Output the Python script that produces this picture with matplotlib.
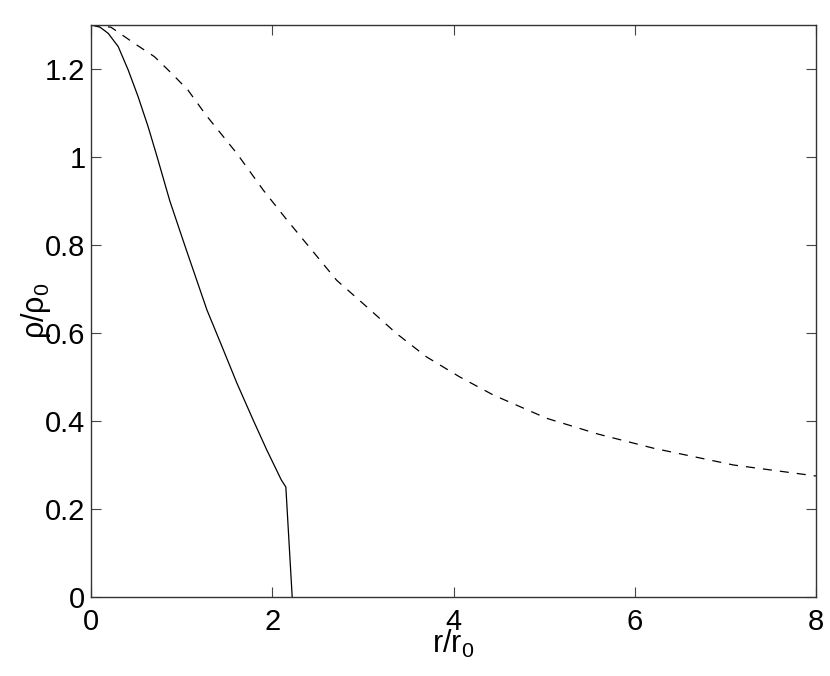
import matplotlib
matplotlib.use("Agg")
import matplotlib.pyplot as plt

plt.rcParams['font.family'] = ['Liberation Sans', 'DejaVu Sans']
plt.rcParams['mathtext.fontset'] = 'custom'
plt.rcParams['mathtext.rm'] = 'Liberation Sans'
plt.rcParams['mathtext.default'] = 'regular'
plt.rcParams['lines.scale_dashes'] = False

# Solid curve
r_solid = [0, 0.10, 0.19, 0.30, 0.41, 0.52, 0.63, 0.73, 0.87, 1.04, 1.28, 1.45,
           1.61, 1.79, 1.94, 2.10, 2.15, 2.22]
rho_solid = [1.3, 1.295, 1.281, 1.251, 1.198, 1.137, 1.069, 1.0, 0.90, 0.796, 0.652, 0.567,
             0.486, 0.402, 0.334, 0.266, 0.25, 0.0]

# Dashed curve
r_dashed = [0, 0.22, 0.48, 0.70, 0.89, 1.07, 1.27, 1.61, 1.90, 2.15, 2.45, 2.71, 3.04,
            3.37, 3.70, 4.07, 4.44, 5.03, 5.6, 6.21, 7.09, 8.0]
rho_dashed = [1.3, 1.295, 1.258, 1.228, 1.19, 1.152, 1.095, 1.008, 0.925, 0.86, 0.785, 0.72, 0.66,
              0.599, 0.546, 0.50, 0.459, 0.406, 0.37, 0.338, 0.30, 0.275]

xticks = [0, 2, 4, 6, 8]
yticks = [0, 0.2, 0.4, 0.6, 0.8, 1, 1.2]
yticklabels = ['0', '0.2', '0.4', '0.6', '0.8', '1', '1.2']

fig = plt.figure(figsize=(8.30, 6.76), dpi=100)
ax = fig.add_axes([91/830, 1-597/676, (816-91)/830, (597-25)/676])

ax.plot(r_solid, rho_solid, color='black', lw=0.9)
ax.plot(r_dashed, rho_dashed, color='black', lw=0.9, dashes=(6.5, 5.8))

ax.set_xlim(0, 8)
ax.set_ylim(0, 1.3)
ax.set_xticks(xticks)
ax.set_xticklabels([str(t) for t in xticks])
ax.set_yticks(yticks)
ax.set_yticklabels(yticklabels)
ax.tick_params(direction='in', top=True, right=True, length=7, width=0.8,
               labelsize=21, color='#444444')
ax.tick_params(axis='y', pad=4)
ax.tick_params(axis='x', pad=8)
for s in ax.spines.values():
    s.set_linewidth(1.0)
    s.set_color('#333333')

ax.set_xlabel(r'r/r$_0$', fontsize=22, labelpad=-6)
ax.set_ylabel(r'ρ/ρ$_0$', fontsize=22, labelpad=-6)

fig.savefig('out.png', dpi=100)
